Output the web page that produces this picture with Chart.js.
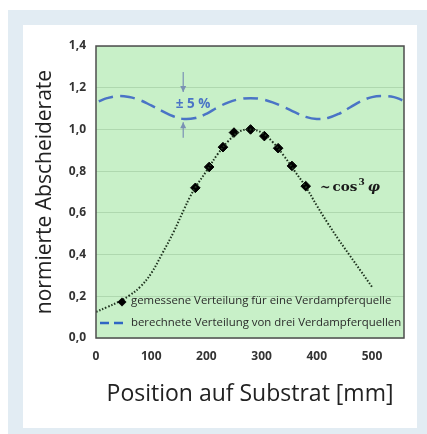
<!DOCTYPE html>
<html>
<head>
<meta charset="utf-8">
<script src="https://cdn.jsdelivr.net/npm/chart.js@4"></script>
<style>
  html, body { margin: 0; padding: 0; background: #fff; }
  #frame { position: absolute; left: 8px; top: 10px; width: 419px; height: 424px; background: #e2ecf3; }
  #panel { position: absolute; left: 23px; top: 25px; width: 394px; height: 403px; background: #fff; }
  #abscheidung { position: absolute; left: 0; top: 0; }
</style>
</head>
<body>
<div id="frame"></div>
<div id="panel"></div>
<canvas id="abscheidung" width="427" height="434"></canvas>
<script>
// Fit curve (~cos^3) for one evaporator source
const fitX = [0, 20, 40, 60, 80, 100, 120, 140, 160, 170, 180, 200, 220, 240, 260, 280, 300, 320, 340, 360, 380, 400, 420, 440, 460, 480, 500];
const fitY = [0.125, 0.148, 0.172, 0.203, 0.245, 0.31, 0.405, 0.505, 0.62, 0.675, 0.722, 0.8, 0.88, 0.945, 0.99, 1.0, 0.985, 0.94, 0.875, 0.8, 0.725, 0.635, 0.55, 0.47, 0.395, 0.32, 0.245];

// measured points
const measX = [180, 205, 230, 250, 280, 305, 330, 355, 380];
const measY = [0.72, 0.82, 0.915, 0.985, 1.0, 0.968, 0.91, 0.825, 0.728];

// calculated distribution, three sources
const calcX = [5, 20, 40, 60, 80, 100, 120, 140, 160, 180, 200, 220, 240, 260, 280, 300, 320, 340, 360, 380, 400, 420, 440, 460, 480, 500, 520, 540, 555];
const calcY = [1.135, 1.15, 1.16, 1.155, 1.14, 1.115, 1.088, 1.063, 1.05, 1.055, 1.075, 1.105, 1.13, 1.145, 1.15, 1.145, 1.13, 1.108, 1.083, 1.06, 1.05, 1.055, 1.075, 1.105, 1.135, 1.155, 1.16, 1.155, 1.14];

const xTicks = [0, 100, 200, 300, 400, 500];
const yTicks = [0, 0.2, 0.4, 0.6, 0.8, 1.0, 1.2, 1.4];
const yTickLabels = ['0,0', '0,2', '0,4', '0,6', '0,8', '1,0', '1,2', '1,4'];

const legendLabels = ['gemessene Verteilung für eine Verdampferquelle', 'berechnete Verteilung von drei Verdampferquellen'];

const blue = '#4a74c6';

const toXY = (xs, ys) => xs.map((x, i) => ({ x: x, y: ys[i] }));

// green plot background, border, legend and annotations
const extras = {
  id: 'extras',
  beforeDraw(chart) {
    const { ctx, chartArea: a } = chart;
    ctx.save();
    ctx.fillStyle = '#c8f0c8';
    ctx.fillRect(a.left, a.top, a.right - a.left, a.bottom - a.top);
    ctx.restore();
  },
  afterDraw(chart) {
    const { ctx, chartArea: a, scales } = chart;
    const xs = scales.x, ys = scales.y;
    ctx.save();
    ctx.strokeStyle = '#4d4d4d';
    ctx.lineWidth = 1.5;
    ctx.strokeRect(a.left, a.top, a.right - a.left, a.bottom - a.top);

    // legend
    ctx.font = '11.4px "Open Sans"';
    ctx.textBaseline = 'middle';
    ctx.fillStyle = '#000';
    ctx.beginPath();
    ctx.moveTo(122, 297.5); ctx.lineTo(126.5, 302); ctx.lineTo(122, 306.5); ctx.lineTo(117.5, 302);
    ctx.closePath(); ctx.fill();
    ctx.fillStyle = '#2a2a2a';
    ctx.fillText(legendLabels[0], 131, 301);
    ctx.strokeStyle = '#2f66c4';
    ctx.lineWidth = 2.5;
    ctx.setLineDash([9, 5]);
    ctx.beginPath(); ctx.moveTo(100, 323); ctx.lineTo(125, 323); ctx.stroke();
    ctx.setLineDash([]);
    ctx.fillText(legendLabels[1], 131, 323);

    // ±5 % marker
    const ax = xs.getPixelForValue(158);
    ctx.strokeStyle = '#7a91b4';
    ctx.fillStyle = '#7a91b4';
    ctx.lineWidth = 1.2;
    const arrow = (y1, y2) => {
      ctx.beginPath(); ctx.moveTo(ax, y1); ctx.lineTo(ax, y2); ctx.stroke();
      const d = y2 > y1 ? 1 : -1;
      ctx.beginPath();
      ctx.moveTo(ax, y2); ctx.lineTo(ax - 3, y2 - d * 6); ctx.lineTo(ax + 3, y2 - d * 6);
      ctx.closePath(); ctx.fill();
    };
    arrow(ys.getPixelForValue(1.275), ys.getPixelForValue(1.18));
    arrow(ys.getPixelForValue(0.96), ys.getPixelForValue(1.035));
    ctx.fillStyle = blue;
    ctx.font = 'bold 13.5px "Open Sans"';
    ctx.textAlign = 'center';
    ctx.fillText('± 5 %', xs.getPixelForValue(176), ys.getPixelForValue(1.12));

    // ~ cos³ φ
    ctx.textAlign = 'left';
    ctx.fillStyle = '#1a1a1a';
    let tx = xs.getPixelForValue(406);
    const ty = ys.getPixelForValue(0.72);
    ctx.font = 'bold 12.5px "DejaVu Serif"';
    ctx.fillText('~', tx, ty);
    tx += ctx.measureText('~').width + 2;
    ctx.font = 'bold 13.5px "DejaVu Serif"';
    ctx.fillText('cos', tx, ty);
    tx += ctx.measureText('cos').width + 1;
    ctx.font = 'bold 9px "DejaVu Serif"';
    ctx.fillText('3', tx, ty - 5);
    tx += ctx.measureText('3').width + 3;
    ctx.font = 'italic bold 13.5px "DejaVu Serif"';
    ctx.fillText('φ', tx, ty);
    ctx.restore();
  }
};

const ctx = document.getElementById('abscheidung').getContext('2d');

const abscheidung = new Chart(ctx, {
  type: 'scatter',
  data: {
    datasets: [{
      label: 'cos3',
      data: toXY(fitX, fitY),
      showLine: true,
      borderColor: '#1f331f',
      borderWidth: 2,
      borderDash: [1.5, 1.8],
      pointRadius: 0,
      tension: 0.4
    }, {
      label: legendLabels[0],
      data: toXY(measX, measY),
      showLine: false,
      pointStyle: 'rectRot',
      pointRadius: 4.8,
      backgroundColor: '#000',
      borderColor: '#000'
    }, {
      label: legendLabels[1],
      data: toXY(calcX, calcY),
      showLine: true,
      borderColor: blue,
      borderWidth: 2.5,
      borderDash: [15, 7],
      pointRadius: 0,
      tension: 0.4
    }]
  },
  options: {
    responsive: false,
    animation: false,
    devicePixelRatio: 1,
    layout: {
      padding: { left: 32, right: 23, top: 46, bottom: 26 }
    },
    plugins: {
      legend: { display: false },
      tooltip: { enabled: false }
    },
    scales: {
      x: {
        type: 'linear',
        min: 0,
        max: 558,
        afterBuildTicks: (s) => { s.ticks = xTicks.map(v => ({ value: v })); },
        afterFit: (s) => { s.height = 70; },
        grid: { display: false, drawTicks: false },
        border: { display: false },
        ticks: {
          padding: 11,
          color: '#333',
          font: { family: 'Open Sans', weight: 'bold', size: 12 }
        },
        title: {
          display: true,
          text: 'Position auf Substrat [mm]',
          color: '#222',
          padding: 0,
          font: { family: 'Open Sans', size: 23 }
        }
      },
      y: {
        min: 0,
        max: 1.4,
        afterBuildTicks: (s) => { s.ticks = yTicks.map(v => ({ value: v })); },
        afterFit: (s) => { s.width = 64; },
        grid: { color: 'rgba(60, 110, 60, 0.18)', drawTicks: false },
        border: { display: false },
        ticks: {
          padding: 10,
          color: '#333',
          font: { family: 'Open Sans', weight: 'bold', size: 12 },
          callback: (v, i) => yTickLabels[i]
        },
        title: {
          display: true,
          text: 'normierte Abscheiderate',
          color: '#222',
          padding: 0,
          font: { family: 'Open Sans', size: 21 }
        }
      }
    }
  },
  plugins: [extras]
});
</script>
</body>
</html>
